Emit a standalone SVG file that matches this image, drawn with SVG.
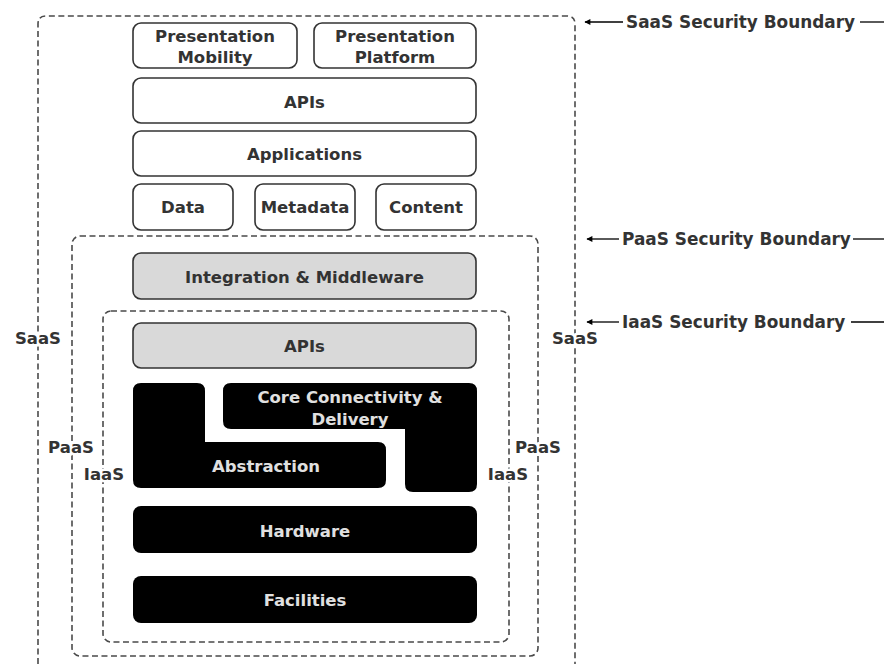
<svg xmlns="http://www.w3.org/2000/svg" width="884" height="664" viewBox="0 0 884 664">
<defs>
<style>
.bd{fill:none;stroke:#4a4a4a;stroke-width:1.6;stroke-dasharray:6 3.5}
.bx{fill:#fff;stroke:#333;stroke-width:1.6}
.gy{fill:#d9d9d9;stroke:#333;stroke-width:1.6}
.bk{fill:#000;stroke:none}
text{font-family:"DejaVu Sans","Liberation Sans",sans-serif;font-weight:bold;font-size:16.5px;fill:#333;text-anchor:middle}
.wt{fill:#e0e0e0}
.lb{paint-order:stroke;stroke:#fff;stroke-width:5}
.bl{text-anchor:start;font-size:16.9px}
.ln{stroke:#000;stroke-width:1.3;fill:none}
</style>
<marker id="ah" viewBox="0 0 10 10" refX="9" refY="5" markerWidth="7" markerHeight="6" orient="auto-start-reverse" markerUnits="userSpaceOnUse">
<path d="M0 0 L10 5 L0 10 Z" fill="#000"/>
</marker>
</defs>
<rect width="884" height="664" fill="#fff"/>

<g id="boundaries">
<path id="saas-boundary" class="bd" d="M38 664 V24 Q38 16 46 16 H567 Q575 16 575 24 V664"/>
<rect id="paas-boundary" class="bd" x="72" y="236" width="466" height="420" rx="8"/>
<rect id="iaas-boundary" class="bd" x="103" y="311" width="406" height="331" rx="8"/>
</g>

<g id="pres-mobility"><rect class="bx" x="133" y="23" width="164" height="45" rx="8"/><text x="215" y="42">Presentation</text><text x="215" y="63">Mobility</text></g>
<g id="pres-platform"><rect class="bx" x="314" y="23" width="162" height="45" rx="8"/><text x="395" y="42">Presentation</text><text x="395" y="63">Platform</text></g>
<g id="apis-saas"><rect class="bx" x="133" y="78" width="343" height="45" rx="8"/><text x="304.5" y="108">APIs</text></g>
<g id="applications"><rect class="bx" x="133" y="131" width="343" height="45" rx="8"/><text x="304.5" y="160">Applications</text></g>
<g id="data"><rect class="bx" x="133" y="184" width="100" height="46" rx="8"/><text x="183" y="213">Data</text></g>
<g id="metadata"><rect class="bx" x="255" y="184" width="100" height="46" rx="8"/><text x="305" y="213">Metadata</text></g>
<g id="content"><rect class="bx" x="376" y="184" width="100" height="46" rx="8"/><text x="426" y="213">Content</text></g>

<g id="integration"><rect class="gy" x="133" y="253" width="343" height="46" rx="8"/><text x="304.5" y="283">Integration &amp; Middleware</text></g>
<g id="apis-paas"><rect class="gy" x="133" y="323" width="343" height="45" rx="8"/><text x="304.5" y="352">APIs</text></g>

<g id="abstraction"><path class="bk" d="M141 383 H197 Q205 383 205 391 V442 H378 Q386 442 386 450 V480 Q386 488 378 488 H141 Q133 488 133 480 V391 Q133 383 141 383 Z"/><text class="wt" x="266" y="472">Abstraction</text></g>
<g id="core-connectivity"><path class="bk" d="M231 383 H469 Q477 383 477 391 V484 Q477 492 469 492 H413 Q405 492 405 484 V429 H231 Q223 429 223 421 V391 Q223 383 231 383 Z"/><text class="wt" x="350" y="403">Core Connectivity &amp;</text><text class="wt" x="350" y="425">Delivery</text></g>
<g id="hardware"><rect class="bk" x="133" y="506" width="344" height="47" rx="8"/><text class="wt" x="305" y="537">Hardware</text></g>
<g id="facilities"><rect class="bk" x="133" y="576" width="344" height="47" rx="8"/><text class="wt" x="305" y="606">Facilities</text></g>

<g id="layer-labels">
<text class="lb" x="38" y="344">SaaS</text>
<text class="lb" x="575" y="344">SaaS</text>
<text class="lb" x="71" y="453">PaaS</text>
<text class="lb" x="538" y="453">PaaS</text>
<text class="lb" x="104" y="480">IaaS</text>
<text class="lb" x="508" y="480">IaaS</text>
</g>

<g id="connectors">
<line class="ln" x1="623" y1="22" x2="585" y2="22" marker-end="url(#ah)"/>
<line class="ln" x1="860" y1="22" x2="884" y2="22"/>
<line class="ln" x1="619" y1="239" x2="587" y2="239" marker-end="url(#ah)"/>
<line class="ln" x1="853" y1="239" x2="884" y2="239"/>
<line class="ln" x1="619" y1="322" x2="587" y2="322" marker-end="url(#ah)"/>
<line class="ln" x1="851" y1="322" x2="884" y2="322"/>
</g>

<g id="boundary-labels">
<text class="bl" x="626" y="28">SaaS Security Boundary</text>
<text class="bl" x="622" y="245">PaaS Security Boundary</text>
<text class="bl" x="622" y="328">IaaS Security Boundary</text>
</g>
</svg>
